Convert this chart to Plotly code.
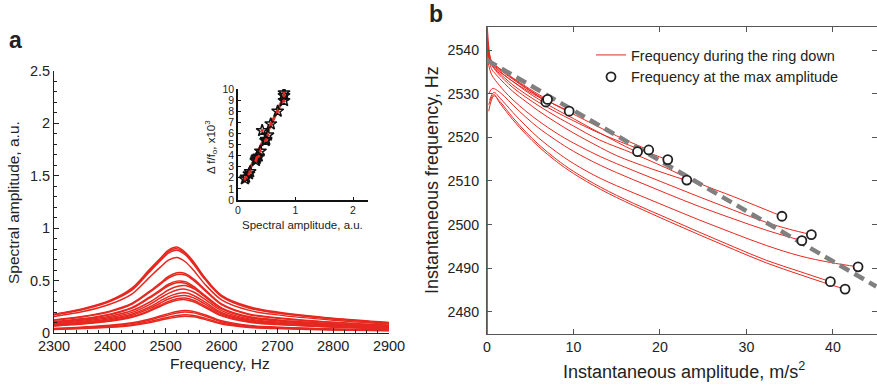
import plotly.graph_objects as go

W, H = 877, 387

# ---------------- Panel a: spectra ----------------
freq_grid = [2300, 2350, 2400, 2440, 2470, 2490, 2505, 2520, 2535, 2550, 2570, 2600, 2650, 2700, 2800, 2900]
spectra = [
    [0.180, 0.230, 0.310, 0.430, 0.600, 0.710, 0.790, 0.820, 0.770, 0.680, 0.530, 0.360, 0.250, 0.200, 0.140, 0.100],
    [0.177, 0.225, 0.306, 0.419, 0.588, 0.700, 0.777, 0.805, 0.761, 0.668, 0.523, 0.354, 0.242, 0.193, 0.137, 0.097],
    [0.174, 0.221, 0.300, 0.411, 0.577, 0.687, 0.762, 0.790, 0.747, 0.656, 0.514, 0.348, 0.237, 0.190, 0.134, 0.095],
    [0.158, 0.202, 0.274, 0.374, 0.526, 0.626, 0.695, 0.720, 0.680, 0.598, 0.468, 0.317, 0.216, 0.173, 0.122, 0.086],
    [0.125, 0.157, 0.209, 0.284, 0.394, 0.476, 0.539, 0.574, 0.568, 0.516, 0.418, 0.278, 0.180, 0.145, 0.102, 0.073],
    [0.121, 0.153, 0.203, 0.277, 0.384, 0.463, 0.525, 0.559, 0.554, 0.503, 0.407, 0.271, 0.175, 0.141, 0.099, 0.071],
    [0.108, 0.135, 0.180, 0.245, 0.340, 0.410, 0.465, 0.495, 0.490, 0.445, 0.360, 0.240, 0.155, 0.125, 0.088, 0.063],
    [0.104, 0.131, 0.175, 0.238, 0.330, 0.398, 0.451, 0.480, 0.475, 0.432, 0.349, 0.233, 0.150, 0.121, 0.085, 0.061],
    [0.096, 0.121, 0.159, 0.214, 0.291, 0.359, 0.410, 0.444, 0.453, 0.423, 0.350, 0.232, 0.146, 0.114, 0.080, 0.057],
    [0.088, 0.111, 0.147, 0.197, 0.269, 0.332, 0.378, 0.410, 0.418, 0.391, 0.323, 0.214, 0.134, 0.105, 0.074, 0.053],
    [0.081, 0.102, 0.135, 0.181, 0.246, 0.304, 0.347, 0.375, 0.383, 0.358, 0.296, 0.196, 0.123, 0.096, 0.067, 0.048],
    [0.076, 0.095, 0.126, 0.169, 0.230, 0.284, 0.324, 0.351, 0.358, 0.335, 0.277, 0.184, 0.115, 0.090, 0.063, 0.045],
    [0.070, 0.089, 0.117, 0.157, 0.214, 0.265, 0.302, 0.327, 0.333, 0.312, 0.258, 0.171, 0.107, 0.084, 0.059, 0.042],
    [0.067, 0.085, 0.112, 0.150, 0.205, 0.253, 0.288, 0.312, 0.318, 0.298, 0.246, 0.163, 0.102, 0.080, 0.056, 0.040],
    [0.044, 0.056, 0.073, 0.097, 0.131, 0.163, 0.185, 0.205, 0.215, 0.206, 0.174, 0.116, 0.071, 0.056, 0.039, 0.028],
    [0.041, 0.052, 0.068, 0.090, 0.122, 0.152, 0.172, 0.191, 0.200, 0.192, 0.162, 0.108, 0.066, 0.052, 0.036, 0.026],
    [0.036, 0.046, 0.060, 0.079, 0.107, 0.133, 0.151, 0.167, 0.175, 0.168, 0.142, 0.095, 0.058, 0.046, 0.032, 0.023],
    [0.033, 0.042, 0.054, 0.072, 0.098, 0.122, 0.138, 0.153, 0.160, 0.154, 0.130, 0.086, 0.053, 0.042, 0.029, 0.021],
]

# ---------------- Inset ----------------
inset_amp = [0.12, 0.14, 0.19, 0.21, 0.31, 0.32, 0.33, 0.36, 0.39, 0.42, 0.48, 0.49, 0.52, 0.57, 0.69, 0.80, 0.80, 0.80]
inset_df = [1.9, 2.05, 2.35, 2.55, 3.55, 3.7, 3.85, 3.95, 4.4, 6.25, 5.35, 5.45, 5.85, 6.85, 8.0, 8.95, 9.4, 9.65]
fit_amp = [0.11, 0.80]
fit_df = [1.75, 9.3]

# ---------------- Panel b: ring-down curves ----------------
ring_amp = [
    [0.05, 0.5, 1, 2, 3, 4, 5, 6, 6.8],
    [0.05, 0.5, 1, 2, 3, 4, 5, 6, 7.0],
    [0.05, 0.5, 1, 2, 3, 4.5, 6, 8, 9.5],
    [0.05, 0.5, 1, 2, 3, 4.5, 6, 8, 10, 12, 14, 16, 17.4],
    [0.05, 0.5, 1, 2, 3, 4.5, 6, 8, 10, 12, 14, 16, 18.7],
    [0.05, 0.5, 1, 2, 3, 4.5, 6, 8, 10, 12.5, 15, 18, 20.8],
    [0.05, 0.5, 1, 2, 3, 4.5, 6, 8, 10, 12.5, 15, 19, 23.1],
    [0.05, 0.5, 1, 2, 3, 4.5, 6, 8, 10, 13, 16.9, 20.8, 24.6, 28.5, 31, 34.1],
    [0.1, 0.5, 1, 2, 3, 4.5, 6, 8, 10, 13.1, 16.9, 20.8, 24.6, 28.5, 32.3, 35, 37.5],
    [0.2, 0.6, 1, 2, 3, 4.5, 6, 8, 10, 13.1, 16.9, 20.8, 24.6, 28.5, 32.3, 36.4],
    [0.3, 0.8, 1.5, 3, 4.5, 6, 8, 10, 13.1, 16.9, 20.8, 24.6, 28.5, 32.3, 36.2, 39.7, 42.9],
    [0.2, 0.8, 1.5, 3, 4.5, 6, 8, 10, 13.1, 16.9, 20.8, 24.6, 28.5, 32.3, 36.2, 39.7],
    [0.2, 0.8, 1.5, 3, 4.5, 6, 8, 10, 13.1, 16.9, 20.8, 24.6, 28.5, 32.3, 36.2, 39.7, 41.4],
]
ring_freq = [
    [2539.5, 2537.2, 2536.2, 2534.7, 2533.3, 2531.9, 2530.6, 2529.3, 2528.1],
    [2540.0, 2537.5, 2536.4, 2535.0, 2533.6, 2532.3, 2531.0, 2529.8, 2528.7],
    [2539.0, 2537.0, 2535.8, 2534.2, 2532.8, 2530.9, 2529.2, 2527.4, 2526.0],
    [2541.0, 2537.0, 2536.0, 2534.3, 2532.8, 2530.6, 2528.7, 2526.4, 2524.3, 2522.1, 2520.0, 2517.9, 2516.6],
    [2542.0, 2537.6, 2536.5, 2535.0, 2533.5, 2531.4, 2529.5, 2527.3, 2525.3, 2523.3, 2521.3, 2519.4, 2517.1],
    [2543.0, 2536.8, 2535.5, 2533.7, 2532.0, 2529.9, 2528.0, 2525.8, 2523.8, 2521.4, 2519.3, 2517.0, 2514.9],
    [2541.0, 2535.8, 2534.5, 2532.4, 2530.5, 2528.2, 2526.0, 2523.4, 2521.0, 2518.3, 2515.8, 2512.8, 2510.1],
    [2545.0, 2537.0, 2535.3, 2533.2, 2531.4, 2529.2, 2527.2, 2524.8, 2522.6, 2519.4, 2516.3, 2512.9, 2509.4, 2506.4, 2504.4, 2501.9],
    [2537.5, 2534.5, 2533.0, 2530.6, 2528.6, 2526.0, 2523.7, 2521.0, 2518.7, 2515.6, 2512.4, 2509.3, 2506.3, 2503.3, 2500.5, 2498.9, 2497.7],
    [2530.0, 2531.2, 2531.0, 2529.4, 2527.4, 2524.6, 2522.1, 2519.3, 2516.8, 2513.6, 2510.3, 2507.1, 2504.1, 2501.3, 2498.7, 2496.3],
    [2528.5, 2530.3, 2529.0, 2525.7, 2522.6, 2519.8, 2516.7, 2514.0, 2510.6, 2507.3, 2504.1, 2501.0, 2498.0, 2495.2, 2492.8, 2491.3, 2490.3],
    [2526.0, 2529.5, 2528.2, 2524.5, 2521.2, 2518.3, 2515.0, 2512.2, 2508.6, 2504.9, 2501.5, 2498.2, 2494.9, 2491.8, 2489.2, 2486.9],
    [2527.5, 2529.8, 2527.8, 2524.0, 2520.7, 2517.8, 2514.5, 2511.7, 2508.1, 2504.4, 2500.9, 2497.6, 2494.3, 2491.2, 2488.5, 2486.2, 2485.2],
]
# noisy trace at vanishing amplitude (end of ring down)
noise_amp = [0.03, 0.03]
noise_freq = [2474.9, 2545.3]

max_amp = [6.8, 7.0, 9.5, 17.4, 18.7, 20.9, 23.1, 34.1, 37.5, 36.4, 42.9, 39.7, 41.4]
max_freq = [2528.1, 2528.7, 2526.0, 2516.7, 2517.1, 2514.9, 2510.2, 2501.9, 2497.7, 2496.3, 2490.3, 2486.9, 2485.2]

backbone_amp = [0, 10, 20, 30, 40, 45]
backbone_freq = [2537.7, 2526.2, 2514.6, 2503.1, 2491.5, 2485.8]

RED = "rgb(230,40,32)"
FONT = "Liberation Sans, Arial, Helvetica, sans-serif"
TXT = "#222222"

fig = go.Figure()

for s in spectra:
    fig.add_trace(go.Scatter(x=freq_grid, y=s, mode="lines", xaxis="x", yaxis="y",
                             line=dict(color=RED, width=1.5, shape="spline", smoothing=0.9),
                             showlegend=False, hoverinfo="skip"))

fig.add_trace(go.Scatter(x=fit_amp, y=fit_df, mode="lines", xaxis="x2", yaxis="y2",
                         line=dict(color=RED, width=3), showlegend=False))
fig.add_trace(go.Scatter(x=inset_amp, y=inset_df, mode="markers", xaxis="x2", yaxis="y2",
                         marker=dict(symbol="star-open", size=9, color="#111", line=dict(width=1.5, color="#111")),
                         showlegend=False))
fig.add_trace(go.Scatter(x=inset_amp, y=inset_df, mode="markers", xaxis="x2", yaxis="y2",
                         marker=dict(symbol="circle", size=3, color=RED), showlegend=False))

fig.add_trace(go.Scatter(x=noise_amp, y=noise_freq, mode="lines", xaxis="x3", yaxis="y3",
                         line=dict(color=RED, width=1.2), showlegend=False))
for i, (a, f) in enumerate(zip(ring_amp, ring_freq)):
    fig.add_trace(go.Scatter(x=a, y=f, mode="lines", xaxis="x3", yaxis="y3",
                             line=dict(color=RED, width=1, shape="spline", smoothing=1.0),
                             name="Frequency during the ring down", showlegend=(i == 0),
                             legendrank=1))
fig.add_trace(go.Scatter(x=backbone_amp, y=backbone_freq, mode="lines", xaxis="x3", yaxis="y3",
                         line=dict(color="rgb(128,128,128)", width=4.5, dash="11px,6px"),
                         showlegend=False))
fig.add_trace(go.Scatter(x=max_amp, y=max_freq, mode="markers", xaxis="x3", yaxis="y3",
                         marker=dict(symbol="circle", size=9, color="white", line=dict(width=1.8, color="#222")),
                         name="Frequency at the max amplitude", legendrank=2))

def px(x):
    return x / W

def py(y):
    return 1 - y / H

tickfont_a = dict(family=FONT, size=14.5, color=TXT)
tickfont_b = dict(family=FONT, size=14.2, color=TXT)

fig.update_layout(
    template="none",
    width=W, height=H, autosize=False,
    margin=dict(l=0, r=0, t=0, b=0),
    paper_bgcolor="white", plot_bgcolor="white",
    font=dict(family=FONT, color=TXT),
    xaxis=dict(domain=[px(54), px(389)], range=[2300, 2900], anchor="y", automargin=False,
               showgrid=False, zeroline=False, showline=True, linecolor="#222", linewidth=1,
               ticks="inside", ticklen=5, tickcolor="#222", dtick=100, tick0=2300,
               tickfont=tickfont_a,
               minor=dict(ticks="inside", ticklen=3, dtick=20, tickcolor="#222", showgrid=False)),
    yaxis=dict(domain=[py(333), py(71)], range=[0, 2.5], anchor="x", automargin=False,
               showgrid=False, zeroline=False, showline=True, linecolor="#222", linewidth=1,
               ticks="inside", ticklen=5, tickcolor="#222", dtick=0.5, tick0=0,
               tickfont=tickfont_a,
               minor=dict(ticks="inside", ticklen=3, dtick=0.1, tickcolor="#222", showgrid=False)),
    xaxis2=dict(domain=[px(238), px(368)], range=[0, 2.26], anchor="y2", automargin=False,
                showgrid=False, zeroline=False, showline=True, linecolor="#111", linewidth=1.5,
                ticks="inside", ticklen=3, tickcolor="#111", tickvals=[0, 1, 2],
                tickfont=dict(family=FONT, size=10.5, color=TXT)),
    yaxis2=dict(domain=[py(200), py(89)], range=[0, 10], anchor="x2", automargin=False,
                showgrid=False, zeroline=False, showline=True, linecolor="#111", linewidth=1.5,
                ticks="inside", ticklen=3, tickcolor="#111", dtick=1, tick0=0,
                tickfont=dict(family=FONT, size=10.5, color=TXT)),
    xaxis3=dict(domain=[px(487), 1.0], range=[0, 45.09], anchor="y3", automargin=False,
                showgrid=False, zeroline=False, showline=True, linecolor="#555", linewidth=1,
                mirror="ticks", ticks="inside", ticklen=5, tickcolor="#555", dtick=10, tick0=0,
                tickfont=tickfont_b),
    yaxis3=dict(domain=[py(334), py(27)], range=[2474.9, 2545.3], anchor="x3", automargin=False,
                showgrid=False, zeroline=False, showline=True, linecolor="#555", linewidth=1,
                mirror="ticks", ticks="inside", ticklen=5, tickcolor="#555", dtick=10, tick0=2480,
                tickfont=tickfont_b, ticklabelstandoff=4),
    legend=dict(x=px(591), y=py(39), xanchor="left", yanchor="top",
                bgcolor="rgba(0,0,0,0)", borderwidth=0,
                font=dict(family=FONT, size=14.5, color=TXT),
                tracegroupgap=0, itemwidth=30),
)

annotations = [
    dict(text="<b>a</b>", x=px(15), y=py(40), font=dict(size=23)),
    dict(text="<b>b</b>", x=px(436), y=py(14), font=dict(size=23)),
    dict(text="Frequency, Hz", x=px(220), y=py(363), font=dict(size=15.5)),
    dict(text="Spectral amplitude, a.u.", x=px(13), y=py(203), font=dict(size=15.5), textangle=-90),
    dict(text="Spectral amplitude, a.u.", x=px(302), y=py(225), font=dict(size=11.5)),
    dict(text="Δ f/f<sub>o</sub>, x10<sup>3</sup>", x=px(211), y=py(147), font=dict(size=11.5), textangle=-90),
    dict(text="Instantaneous amplitude, m/s<sup>2</sup>", x=px(684), y=py(370), font=dict(size=18)),
    dict(text="Instantaneous frequency, Hz", x=px(432), y=py(180), font=dict(size=18), textangle=-90),
]
for a in annotations:
    a.update(xref="paper", yref="paper", showarrow=False, xanchor="center", yanchor="middle")
    a["font"].update(family=FONT, color=TXT)
fig.update_layout(annotations=annotations)

fig.write_html("out.html", config={"displayModeBar": False},
               post_script="document.body.style.margin='0';document.body.style.overflow='hidden';")
